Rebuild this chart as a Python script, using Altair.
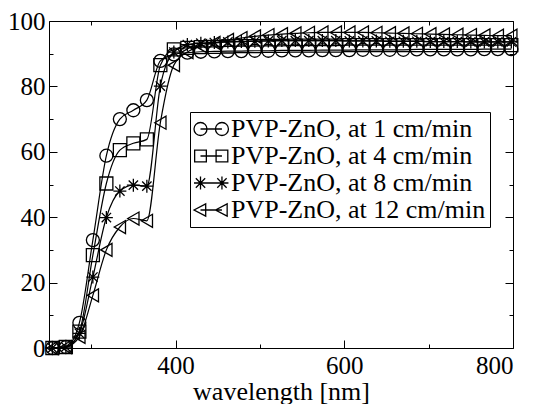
import altair as alt
import pandas as pd

WAVELENGTH = [254, 270, 286, 302, 318, 334, 350, 366, 382, 398, 414, 430, 446, 462,
              478, 494, 510, 526, 542, 558, 574, 590, 606, 622, 638, 654, 670, 686,
              702, 718, 734, 750, 766, 782, 798]

SERIES = ["PVP-ZnO, at 1 cm/min", "PVP-ZnO, at 4 cm/min",
          "PVP-ZnO, at 8 cm/min", "PVP-ZnO, at 12 cm/min"]

T_1CM = [0, 0.3, 7.7, 33.0, 58.8, 70.0, 72.7, 75.8, 87.8, 89.8, 90.3, 90.6, 90.7, 90.8,
         90.8, 90.9, 90.9, 91.0, 91.0, 91.0, 91.1, 91.1, 91.1, 91.2, 91.2, 91.2, 91.2,
         91.3, 91.3, 91.3, 91.3, 91.3, 91.4, 91.4, 91.4]
T_4CM = [0, 0.3, 5.0, 28.4, 50.3, 60.5, 62.6, 63.8, 86.5, 91.3, 91.8, 92.0, 92.1, 92.2,
         92.3, 92.3, 92.4, 92.4, 92.5, 92.5, 92.5, 92.5, 92.6, 92.6, 92.6, 92.6, 92.6,
         92.6, 92.6, 92.6, 92.6, 92.6, 92.6, 92.6, 92.6]
T_8CM = [0, 0.3, 4.5, 21.7, 39.9, 48.0, 49.8, 49.5, 80.1, 90.5, 92.8, 93.2, 93.4, 93.6,
         93.7, 93.8, 93.9, 94.0, 94.0, 94.0, 94.0, 94.0, 93.9, 93.9, 93.9, 93.8, 93.8,
         93.8, 93.7, 93.7, 93.7, 93.6, 93.6, 93.6, 93.6]
T_12CM = [0, 0.3, 3.4, 16.1, 30.0, 37.0, 39.6, 38.9, 68.9, 86.5, 90.5, 92.3, 93.3, 94.2,
          94.8, 95.3, 95.7, 96.0, 96.2, 96.4, 96.5, 96.5, 96.5, 96.5, 96.4, 96.3, 96.2,
          96.1, 96.0, 95.9, 95.8, 95.7, 95.6, 95.5, 95.5]

Y_MAJOR = [0, 20, 40, 60, 80, 100]
Y_MINOR = [10, 30, 50, 70, 90]
X_MAJOR = [400, 600, 800]
X_MINOR = [300, 500, 700]

rows = []
for name, vals in zip(SERIES, [T_1CM, T_4CM, T_8CM, T_12CM]):
    for w, v in zip(WAVELENGTH, vals):
        rows.append({"wavelength": w, "T": v, "series": name})
df = pd.DataFrame(rows)

TOTAL_W, TOTAL_H = 523, 396
PAD_L, PAD_T = 41, 13
W, H = 464, 327
FONT = "'Liberation Serif', 'Times New Roman', Times, serif"

STAR = "M-1,0L1,0M0,-1L0,1M-0.72,-0.72L0.72,0.72M-0.72,0.72L0.72,-0.72"
MARKERS = ["circle", "square", STAR, "triangle-left"]

LEG_CIRCLE = ("M0,0A1,1,0,1,1,-2,0A1,1,0,1,1,0,0Z"
              "M3.3,0A1,1,0,1,1,1.3,0A1,1,0,1,1,3.3,0Z"
              "M-1,0L2.3,0")
LEG_SQUARE = "M-1.9,-0.9L-0.1,-0.9L-0.1,0.9L-1.9,0.9ZM1.4,-0.9L3.2,-0.9L3.2,0.9L1.4,0.9ZM-1,0L2.3,0"
LEG_STAR = ("M-2,0L0,0M-1,-1L-1,1M-1.72,-0.72L-0.28,0.72M-1.72,0.72L-0.28,-0.72"
            "M1.3,0L3.3,0M2.3,-1L2.3,1M1.58,-0.72L3.02,0.72M1.58,0.72L3.02,-0.72"
            "M-1,0L2.3,0")
LEG_TRI = "M-2,0L-0.2,-0.95L-0.2,0.95ZM1.3,0L3.1,-0.95L3.1,0.95ZM-1,0L2.3,0"
LEGEND_SYMBOLS = [LEG_CIRCLE, LEG_SQUARE, LEG_STAR, LEG_TRI]

xscale = alt.Scale(domain=[250, 800], nice=False, zero=False)
yscale = alt.Scale(domain=[0, 100], nice=False, zero=False)


def tick_axis(orient, values, size, offset):
    return alt.Axis(orient=orient, values=values, tickSize=size, offset=offset,
                    labels=False, domain=False, grid=False, title=None,
                    ticks=True, tickColor="black", tickWidth=1)


def X(axis, title=None):
    return alt.X("wavelength:Q", scale=xscale, axis=axis, title=title)


def Y(axis):
    return alt.Y("T:Q", scale=yscale, axis=axis, title=None)


ax_x_labels = alt.Axis(orient="bottom", values=X_MAJOR, ticks=False, domain=False,
                       grid=False, labelFont=FONT, labelFontSize=25, labelColor="black",
                       labelPadding=5, titleFont=FONT, titleFontSize=26,
                       titleFontWeight="normal", titleColor="black", titlePadding=0)
ax_y_labels = alt.Axis(orient="left", values=Y_MAJOR, ticks=False, domain=False,
                       grid=False, labelFont=FONT, labelFontSize=25, labelColor="black",
                       labelPadding=4, title=None)

lines = alt.Chart(df).mark_line(interpolate="monotone", color="black", strokeWidth=1.2).encode(
    x=X(ax_x_labels, "wavelength [nm]"),
    y=Y(ax_y_labels),
    detail="series:N",
)

points = alt.Chart(df).mark_point(filled=False, color="black", size=169, strokeWidth=1.3,
                                  opacity=1).encode(
    x=X(tick_axis("top", X_MAJOR, 8, -H)),
    y=Y(tick_axis("right", Y_MAJOR, 8, -W)),
    shape=alt.Shape("series:N", scale=alt.Scale(domain=SERIES, range=MARKERS), legend=None),
)

legend_layer = alt.Chart(df).mark_point(filled=False, color="black", size=169,
                                        strokeWidth=1.3, opacity=0).encode(
    x=X(tick_axis("top", X_MINOR, 4, -H)),
    y=Y(tick_axis("right", Y_MINOR, 4, -W)),
    shape=alt.Shape(
        "series:N",
        scale=alt.Scale(domain=SERIES, range=LEGEND_SYMBOLS),
        legend=alt.Legend(title=None, orient="none", legendX=141, legendY=91,
                          labelFont=FONT, labelFontSize=26, labelColor="black",
                          labelLimit=0, symbolSize=169, symbolStrokeWidth=1.3,
                          symbolStrokeColor="black", symbolFillColor="transparent",
                          symbolOpacity=1, padding=4, strokeColor="black",
                          fillColor="white", rowPadding=1, labelOffset=11),
    ),
)

inv1 = alt.Chart(df).mark_point(opacity=0).encode(
    x=X(tick_axis("bottom", X_MAJOR, 8, -H)),
    y=Y(tick_axis("left", Y_MAJOR, 8, -W)),
)
inv2 = alt.Chart(df).mark_point(opacity=0).encode(
    x=X(tick_axis("bottom", X_MINOR, 4, -H)),
    y=Y(tick_axis("left", Y_MINOR, 4, -W)),
)

chart = (
    alt.layer(lines, points, legend_layer, inv1, inv2)
    .resolve_scale(shape="independent")
    .resolve_axis(x="independent", y="independent")
    .properties(
        width=W, height=H, background="white",
        autosize=alt.AutoSizeParams(type="none"),
        padding={"left": PAD_L, "top": PAD_T,
                 "right": TOTAL_W - PAD_L - W, "bottom": TOTAL_H - PAD_T - H},
    )
    .configure_view(stroke="black", strokeWidth=1)
)

chart.save("out.html", embed_options={"renderer": "svg", "actions": False})
